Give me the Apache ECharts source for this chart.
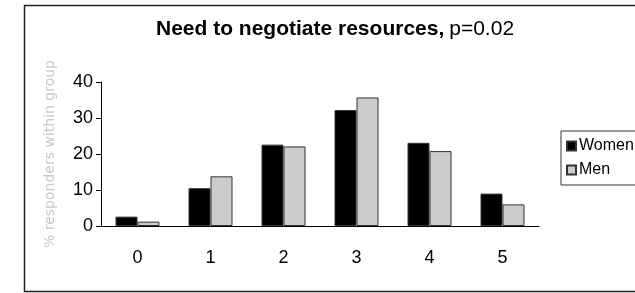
<!DOCTYPE html>
<html>
<head>
<meta charset="utf-8">
<script src="https://cdn.jsdelivr.net/npm/echarts@6/dist/echarts.min.js"></script>
<style>
  html, body { margin: 0; padding: 0; background: #fff; }
  #chart { width: 635px; height: 293px; }
</style>
</head>
<body>
<div id="chart"></div>
<script>
const categories = ["0", "1", "2", "3", "4", "5"]
const women = [2.6, 10.5, 22.6, 32.2, 23.1, 9.0]
const men = [1.2, 13.8, 22.1, 35.7, 20.8, 6.0]
const yTicks = { min: 0, max: 40, interval: 10 }

const myChart = echarts.init(document.getElementById("chart"))

myChart.setOption({
  animation: false,
  textStyle: { fontFamily: "Liberation Sans, Arial, sans-serif" },
  graphic: [
    {
      type: "rect",
      shape: { x: 24.5, y: 5.5, width: 700, height: 286 },
      style: { fill: "none", stroke: "#222", lineWidth: 1.5 },
      silent: true
    }
  ],
  title: {
    text: "{b|Need to negotiate resources,} {n|p=0.02}",
    left: 151,
    top: 14,
    textStyle: {
      rich: {
        b: { fontSize: 21, fontWeight: "bold", color: "#000" },
        n: { fontSize: 21, fontWeight: "normal", color: "#000" }
      }
    }
  },
  legend: {
    orient: "vertical",
    left: 561,
    top: 131,
    padding: [7, 30, 7, 5],
    itemGap: 8,
    itemWidth: 9,
    itemHeight: 9,
    borderColor: "#333",
    borderWidth: 1,
    textStyle: { fontSize: 16, color: "#000", padding: [0, 0, 0, -2] },
    data: [
      { name: "Women", icon: "rect" },
      { name: "Men", icon: "rect" }
    ]
  },
  grid: {
    left: 101,
    right: 96,
    top: 82,
    bottom: 67
  },
  xAxis: {
    type: "category",
    data: categories,
    axisLine: { lineStyle: { color: "#000", width: 1 } },
    axisTick: { length: 5, lineStyle: { color: "#000" } },
    axisLabel: { fontSize: 18, color: "#000", margin: 23 }
  },
  yAxis: {
    type: "value",
    min: yTicks.min,
    max: yTicks.max,
    interval: yTicks.interval,
    name: "% responders within group",
    nameLocation: "middle",
    nameGap: 44,
    nameTextStyle: { fontSize: 14, color: "#c8c8c8", fontFamily: "DejaVu Sans" },
    splitLine: { show: false },
    axisLine: { show: true, lineStyle: { color: "#000", width: 1 } },
    axisTick: { show: true, length: 5, lineStyle: { color: "#000" } },
    axisLabel: { fontSize: 18, color: "#000", margin: 8 }
  },
  series: [
    {
      name: "Women",
      type: "bar",
      data: women,
      barWidth: 22,
      barGap: "0%",
      itemStyle: { color: "#000", borderColor: "#333", borderWidth: 1 }
    },
    {
      name: "Men",
      type: "bar",
      data: men,
      barWidth: 22,
      itemStyle: { color: "#cccccc", borderColor: "#333", borderWidth: 1 }
    }
  ]
})
</script>
</body>
</html>
